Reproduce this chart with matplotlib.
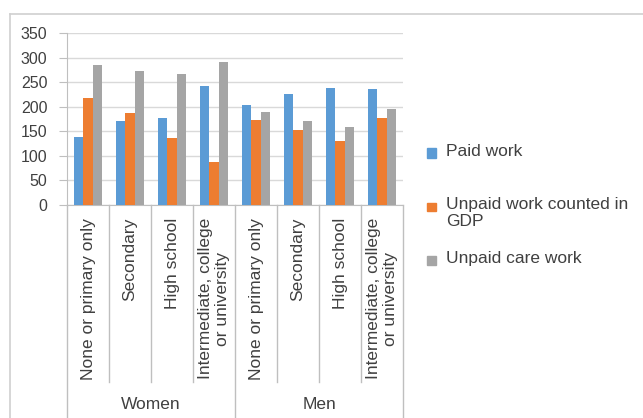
import matplotlib
matplotlib.use("Agg")
import matplotlib.pyplot as plt
import matplotlib.transforms as mtransforms
from matplotlib.patches import Rectangle
from matplotlib.lines import Line2D
import numpy as np

plt.rcParams['font.family'] = ['Liberation Sans', 'DejaVu Sans']

groups = ["Women", "Men"]
levels = ["None or primary only", "Secondary", "High school",
          "Intermediate, college\nor university"]
series = ["Paid work", "Unpaid work counted in\nGDP", "Unpaid care work"]
paid = [138, 170, 177, 242, 204, 226, 239, 237]
unpaid_gdp = [218, 187, 136, 87, 173, 153, 131, 178]
unpaid_care = [284, 273, 266, 292, 190, 170, 158, 196]
colors = ["#5b9bd5", "#ed7d31", "#a5a5a5"]

txt = "#404040"
grid_c = "#d9d9d9"
axis_c = "#bfbfbf"

fig = plt.figure(figsize=(6.43, 4.18), dpi=100)
ax = fig.add_axes([67 / 643, 1 - 205 / 418, 336 / 643, 172 / 418])

n = len(paid)
x = np.arange(n)
w = 0.226
for k, vals in enumerate([paid, unpaid_gdp, unpaid_care]):
    ax.bar(x + (k - 1) * w, vals, w, color=colors[k], zorder=3)

ax.set_xlim(-0.5, n - 0.5)
ax.set_ylim(0, 350)
ax.set_yticks(np.arange(0, 351, 50))
ax.yaxis.grid(True, color=grid_c, lw=1, zorder=0)
ax.set_xticks([])
for s in ["top", "right"]:
    ax.spines[s].set_visible(False)
for s in ["left", "bottom"]:
    ax.spines[s].set_color(axis_c)
ax.tick_params(axis="y", length=6, color=axis_c, labelsize=11.5, labelcolor=txt, pad=8)

# multi-level category axis
trans = mtransforms.blended_transform_factory(ax.transData, ax.transAxes)
labels = levels * len(groups)
for i in range(n):
    ax.text(x[i], -0.075, labels[i], rotation=90, ha="center", va="top",
            multialignment="center", fontsize=12.5, color=txt, transform=trans,
            linespacing=1.15)
for i in range(n + 1):
    edge = i - 0.5
    low = -1.25 if i % len(levels) == 0 else -1.03
    ax.add_line(Line2D([edge, edge], [0, low], color=axis_c, lw=1,
                       transform=trans, clip_on=False))
for g, name in enumerate(groups):
    c = g * len(levels) + (len(levels) - 1) / 2
    ax.text(c, -1.157, name, ha="center", va="center", fontsize=12.5,
            color=txt, transform=trans)

# legend, Excel-style spacing
leg_y = [1 - 153 / 418, 1 - 207 / 418, 1 - 260 / 418]
for k, name in enumerate(series):
    fig.patches.append(Rectangle((427 / 643, leg_y[k] - 4.5 / 418), 9 / 643, 9 / 418,
                                 transform=fig.transFigure, color=colors[k]))
    fig.text(446 / 643, leg_y[k] + 9.5 / 418, name, ha="left", va="top",
             fontsize=12.5, color=txt, linespacing=1.15)

# chart border
border_c = "#d0d0d0"
fig.add_artist(Line2D([9.5 / 643, 1], [1 - 14 / 418] * 2, color=border_c, lw=1.2,
                      transform=fig.transFigure))
fig.add_artist(Line2D([9.5 / 643] * 2, [0, 1 - 14 / 418], color=border_c, lw=1.2,
                      transform=fig.transFigure))

fig.savefig("out.png", dpi=100)
